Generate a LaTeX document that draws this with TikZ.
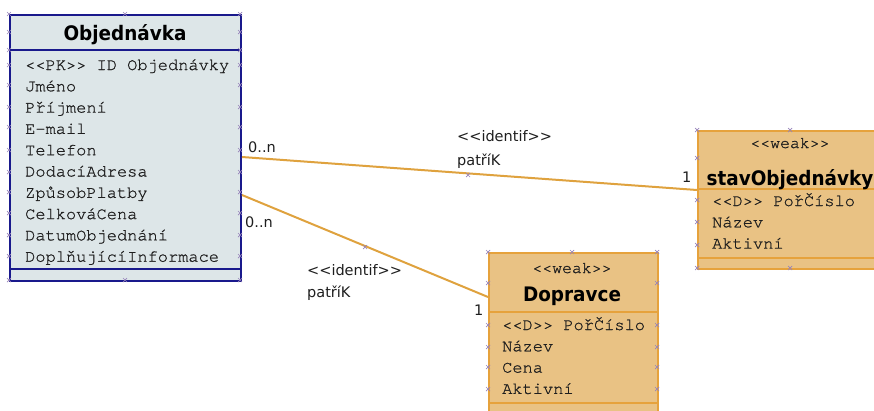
\documentclass[tikz,border=0pt]{standalone}
\usepackage{fontspec}
\newfontfamily\titlefont[FakeStretch=0.92]{DejaVu Sans}
\newfontfamily\attrfont[FakeBold=0.8]{TeX Gyre Cursor}
\newfontfamily\labelfont{DejaVu Sans}
\usepackage{tikz}
\usetikzlibrary{positioning}

\definecolor{objfill}{RGB}{221,230,232}
\definecolor{objline}{RGB}{25,25,140}
\definecolor{weakfill}{RGB}{233,194,132}
\definecolor{weakline}{RGB}{230,162,60}
\definecolor{relline}{RGB}{223,162,62}
\definecolor{handle}{RGB}{150,130,185}
\definecolor{attrtext}{RGB}{30,30,30}

\begin{document}
\begin{tikzpicture}[x=1pt, y=-1pt, node distance=21.3pt,
      box/.style={rectangle, draw, line width=2pt, inner sep=0, anchor=north west},
      objbox/.style={box, draw=objline, fill=objfill},
      weakbox/.style={box, draw=weakline, fill=weakfill},
      title/.style={font=\titlefont\bfseries\fontsize{20}{24}\selectfont, anchor=base, inner sep=0},
      stereo/.style={font=\attrfont\fontsize{16.5}{18}\selectfont, anchor=base, inner sep=0, text=attrtext},
      attr/.style={font=\attrfont\fontsize{17}{20}\selectfont, inner sep=0, text=attrtext},
      lbl/.style={font=\labelfont\fontsize{14.5}{16}\selectfont, anchor=base west, inner sep=0, text=attrtext},
      rel/.style={draw=relline, line width=2pt},
      hdl/.style={draw=handle, line width=0.7pt}]

  \useasboundingbox (0,0) rectangle (874,410);
  \clip (0,0) rectangle (874,410);

  % Boxes
  \node[objbox, minimum width=231pt, minimum height=266pt] (obj) at (9,14) {};
  \node[weakbox, minimum width=169pt, minimum height=170pt] (dop) at (488,252) {};
  \node[weakbox, minimum width=188pt, minimum height=138pt] (stav) at (697,130) {};

  % Compartments
  \draw[objline, line width=2pt] (obj.west |- 0,50) -- (obj.east |- 0,50)
                                 (obj.west |- 0,269) -- (obj.east |- 0,269);
  \draw[weakline, line width=2pt] (dop.west |- 0,312) -- (dop.east |- 0,312)
                                  (dop.west |- 0,403) -- (dop.east |- 0,403);
  \draw[weakline, line width=2pt] (stav.west |- 0,189) -- (stav.east |- 0,189)
                                  (stav.west |- 0,258) -- (stav.east |- 0,258);

  % Titles
  \node[title] (objT) at (125,40) {Objednávka};
  \node[stereo] (dopS) at (572,273) {<<weak>>};
  \node[title] (dopT) at (572,301) {Dopravce};
  \node[stereo] (stavS) at (790,148) {<<weak>>};
  \node[title] (stavT) at (790,185) {stavObjednávky};

  % Attributes
  \node[attr, anchor=base west] (objA1) at (25,70) {<<PK>> ID Objednávky};
  \node[attr, below=of objA1.base west, anchor=base west] (objA2) {Jméno};
  \node[attr, below=of objA2.base west, anchor=base west] (objA3) {Příjmení};
  \node[attr, below=of objA3.base west, anchor=base west] (objA4) {E-mail};
  \node[attr, below=of objA4.base west, anchor=base west] (objA5) {Telefon};
  \node[attr, below=of objA5.base west, anchor=base west] (objA6) {DodacíAdresa};
  \node[attr, below=of objA6.base west, anchor=base west] (objA7) {ZpůsobPlatby};
  \node[attr, below=of objA7.base west, anchor=base west] (objA8) {CelkováCena};
  \node[attr, below=of objA8.base west, anchor=base west] (objA9) {DatumObjednání};
  \node[attr, below=of objA9.base west, anchor=base west] (objA10) {DoplňujícíInformace};

  \node[attr, anchor=base west] (dopA1) at (502,330) {<<D>> PořČíslo};
  \node[attr, below=of dopA1.base west, anchor=base west] (dopA2) {Název};
  \node[attr, below=of dopA2.base west, anchor=base west] (dopA3) {Cena};
  \node[attr, below=of dopA3.base west, anchor=base west] (dopA4) {Aktivní};

  \node[attr, anchor=base west] (stavA1) at (712,206) {<<D>> PořČíslo};
  \node[attr, below=of stavA1.base west, anchor=base west] (stavA2) {Název};
  \node[attr, below=of stavA2.base west, anchor=base west] (stavA3) {Aktivní};

  % Edges
  \coordinate (objR1) at (obj.east |- 0,157);
  \coordinate (objR2) at (obj.east |- 0,195);
  \coordinate (stavL) at (stav.west |- 0,190);
  \coordinate (dopL) at (dop.west |- 0,297);
  \draw[rel] (objR1) -- (stavL);
  \draw[rel] (objR2) -- (dopL);

  % Labels
  \node[lbl] (m1) at (248,152) {0..n};
  \node[lbl] (s1a) at (457,141) {<<identif>>};
  \node[lbl] (s1b) at (457,165) {patříK};
  \node[lbl] (o1) at (682,182) {1};
  \node[lbl] (m2) at (245,227) {0..n};
  \node[lbl] (s2a) at (307,275) {<<identif>>};
  \node[lbl] (s2b) at (307,297) {patříK};
  \node[lbl] (o2) at (474,315) {1};

  % Handles
  \foreach \x in {9,240}
    \foreach \y in {14,32,50,65,85,107,127,150,172,192,213,235,256,280}
      \draw[hdl] (\x,\y) +(-2,-2) -- +(2,2) +(-2,2) -- +(2,-2);
  \foreach \y in {14,280}
    \draw[hdl] (125,\y) +(-2,-2) -- +(2,2) +(-2,2) -- +(2,-2);
  \foreach \x in {488,657}
    \foreach \y in {252,283,325,347,367,389}
      \draw[hdl] (\x,\y) +(-2,-2) -- +(2,2) +(-2,2) -- +(2,-2);
  \draw[hdl] (572,252) +(-2,-2) -- +(2,2) +(-2,2) -- +(2,-2);
  \foreach \y in {130,158,200,222,245,268}
    \draw[hdl] (697,\y) +(-2,-2) -- +(2,2) +(-2,2) -- +(2,-2);
  \foreach \y in {130,268}
    \draw[hdl] (790,\y) +(-2,-2) -- +(2,2) +(-2,2) -- +(2,-2);
  \foreach \x/\y in {468/175,365/247}
    \draw[hdl] (\x,\y) +(-2,-2) -- +(2,2) +(-2,2) -- +(2,-2);

\end{tikzpicture}
\end{document}
